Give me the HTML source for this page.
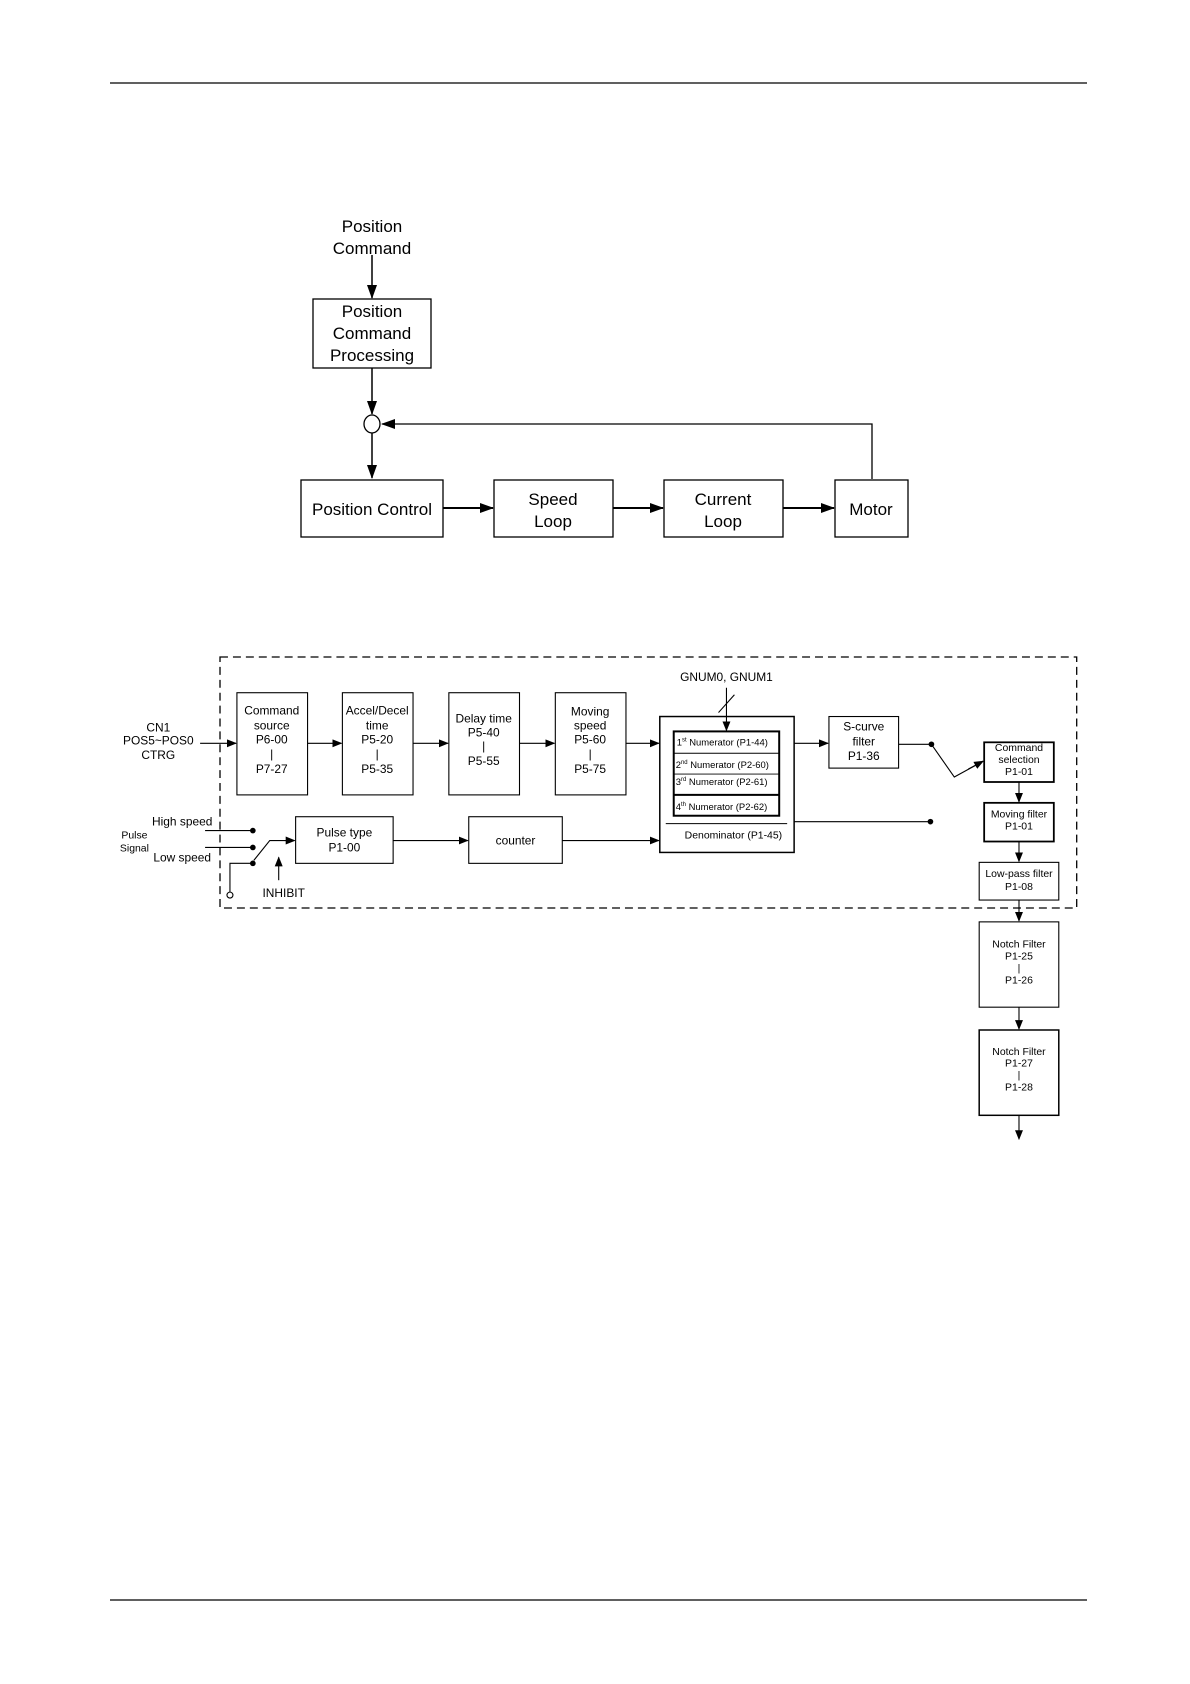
<!DOCTYPE html>
<html><head><meta charset="utf-8"><style>
html,body{margin:0;padding:0;background:#fff}
svg{display:block}
text{font-family:"Liberation Sans",sans-serif;fill:#000}
</style></head><body>
<svg width="1190" height="1684" viewBox="0 0 1190 1684" xmlns="http://www.w3.org/2000/svg">
<defs>
<marker id="a" markerWidth="10" markerHeight="8" refX="9" refY="4" orient="auto" markerUnits="userSpaceOnUse"><path d="M0,0 L10,4 L0,8 z" fill="#000"/></marker>
<marker id="b" markerWidth="14" markerHeight="10" refX="13" refY="5" orient="auto" markerUnits="userSpaceOnUse"><path d="M0,0 L14,5 L0,10 z" fill="#000"/></marker>
</defs>
<line x1="110" y1="83" x2="1087" y2="83" stroke="#000" stroke-width="1.2"/>
<line x1="110" y1="1600" x2="1087" y2="1600" stroke="#000" stroke-width="1.2"/>

<!-- top diagram -->
<g font-size="17" text-anchor="middle" stroke="#000" fill="none">
<line x1="372" y1="255" x2="372" y2="298" stroke-width="1.5" marker-end="url(#b)"/>
<rect x="313" y="299" width="118" height="69" stroke-width="1.3"/>
<line x1="372" y1="368" x2="372" y2="414" stroke-width="1.5" marker-end="url(#b)"/>
<ellipse cx="372" cy="424" rx="8" ry="9" stroke-width="1.3"/>
<polyline points="872,479 872,424 382,424" stroke-width="1.3" marker-end="url(#b)"/>
<line x1="372" y1="433" x2="372" y2="478" stroke-width="1.5" marker-end="url(#b)"/>
<rect x="301" y="480" width="142" height="57" stroke-width="1.3"/>
<rect x="494" y="480" width="119" height="57" stroke-width="1.3"/>
<rect x="664" y="480" width="119" height="57" stroke-width="1.3"/>
<rect x="835" y="480" width="73" height="57" stroke-width="1.3"/>
<line x1="443" y1="508" x2="493" y2="508" stroke-width="2" marker-end="url(#b)"/>
<line x1="613" y1="508" x2="663" y2="508" stroke-width="2" marker-end="url(#b)"/>
<line x1="783" y1="508" x2="834" y2="508" stroke-width="2" marker-end="url(#b)"/>
</g>
<g font-size="17" text-anchor="middle">
<text x="372" y="232">Position</text><text x="372" y="254">Command</text>
<text x="372" y="317">Position</text><text x="372" y="339">Command</text><text x="372" y="361">Processing</text>
<text x="372" y="515">Position Control</text>
<text x="553" y="505">Speed</text><text x="553" y="527">Loop</text>
<text x="723" y="505">Current</text><text x="723" y="527">Loop</text>
<text x="871" y="515">Motor</text>
</g>

<!-- lower diagram -->
<g transform="translate(221,658) scale(0.995,0.992) translate(-221,-658)">
<g stroke="#000" fill="none" stroke-width="1.1">
<rect x="220" y="657" width="861" height="253" stroke-dasharray="8,5" stroke-width="1.3"/>
<rect x="237" y="693" width="71" height="103"/>
<rect x="343" y="693" width="71" height="103"/>
<rect x="450" y="693" width="71" height="103"/>
<rect x="557" y="693" width="71" height="103"/>
<line x1="200" y1="744" x2="236" y2="744" marker-end="url(#a)"/>
<line x1="308" y1="744" x2="342" y2="744" marker-end="url(#a)"/>
<line x1="414" y1="744" x2="449" y2="744" marker-end="url(#a)"/>
<line x1="521" y1="744" x2="556" y2="744" marker-end="url(#a)"/>
<line x1="628" y1="744" x2="661" y2="744" marker-end="url(#a)"/>
<rect x="662" y="717" width="135" height="137" stroke-width="1.5"/>
<rect x="676" y="732" width="106" height="85" stroke-width="2"/>
<line x1="676" y1="754" x2="782" y2="754" stroke-width="1"/>
<line x1="676" y1="775" x2="782" y2="775" stroke-width="1"/>
<line x1="676" y1="796" x2="782" y2="796" stroke-width="2"/>
<line x1="668" y1="825" x2="790" y2="825" stroke-width="1"/>
<line x1="729" y1="688" x2="729" y2="731" marker-end="url(#a)"/>
<line x1="721" y1="713" x2="737" y2="695"/>
<line x1="797" y1="744" x2="831" y2="744" marker-end="url(#a)"/>
<rect x="832" y="717" width="70" height="52"/>
<polyline points="902,745 935,745 958,778 987,762"/>
<line x1="972" y1="770" x2="987" y2="762" marker-end="url(#a)"/>
<circle cx="935" cy="745" r="2.3" fill="#000"/>
<line x1="797" y1="823" x2="934" y2="823"/>
<circle cx="934" cy="823" r="2.3" fill="#000"/>
<rect x="988" y="743" width="70" height="40" stroke-width="1.8"/>
<line x1="1023" y1="783" x2="1023" y2="803" marker-end="url(#a)"/>
<rect x="988" y="804" width="70" height="39" stroke-width="1.8"/>
<line x1="1023" y1="843" x2="1023" y2="863" marker-end="url(#a)"/>
<rect x="983" y="864" width="80" height="38"/>
<line x1="1023" y1="902" x2="1023" y2="923" marker-end="url(#a)"/>
<rect x="983" y="924" width="80" height="86"/>
<line x1="1023" y1="1010" x2="1023" y2="1032" marker-end="url(#a)"/>
<rect x="983" y="1033" width="80" height="86" stroke-width="1.5"/>
<line x1="1023" y1="1119" x2="1023" y2="1143" marker-end="url(#a)"/>
<line x1="205" y1="832" x2="253" y2="832"/>
<line x1="205" y1="849" x2="253" y2="849"/>
<polyline points="230,894 230,865 253,865"/>
<circle cx="230" cy="897" r="3" fill="#fff"/>
<circle cx="253" cy="832" r="2.3" fill="#000"/>
<circle cx="253" cy="849" r="2.3" fill="#000"/>
<circle cx="253" cy="865" r="2.3" fill="#000"/>
<polyline points="254,862 270,842 287,842"/>
<line x1="285" y1="842" x2="295" y2="842" marker-end="url(#a)"/>
<line x1="279" y1="882" x2="279" y2="859" marker-end="url(#a)"/>
<rect x="296" y="818" width="98" height="47"/>
<line x1="394" y1="842" x2="469" y2="842" marker-end="url(#a)"/>
<rect x="470" y="818" width="94" height="47"/>
<line x1="564" y1="842" x2="661" y2="842" marker-end="url(#a)"/>
</g>
<g font-size="12" text-anchor="middle">
<text x="158" y="732">CN1</text><text x="158" y="745">POS5~POS0</text><text x="158" y="760">CTRG</text>
<text x="272" y="715">Command</text><text x="272" y="730">source</text><text x="272" y="744">P6-00</text><text x="272" y="759">|</text><text x="272" y="774">P7-27</text>
<text x="378" y="715">Accel/Decel</text><text x="378" y="730">time</text><text x="378" y="744">P5-20</text><text x="378" y="759">|</text><text x="378" y="774">P5-35</text>
<text x="485" y="723">Delay time</text><text x="485" y="737">P5-40</text><text x="485" y="751">|</text><text x="485" y="766">P5-55</text>
<text x="592" y="716">Moving</text><text x="592" y="730">speed</text><text x="592" y="744">P5-60</text><text x="592" y="759">|</text><text x="592" y="774">P5-75</text>
<text x="729" y="681">GNUM0, GNUM1</text>
<text x="867" y="731">S-curve</text><text x="867" y="746">filter</text><text x="867" y="761">P1-36</text>
<text x="182" y="827">High speed</text><text x="182" y="863">Low speed</text>
<text x="284" y="899">INHIBIT</text>
<text x="345" y="838">Pulse type</text><text x="345" y="853">P1-00</text>
<text x="517" y="846">counter</text>
</g>
<g font-size="10.5" text-anchor="middle">
<text x="134" y="840">Pulse</text><text x="134" y="853">Signal</text>
<text x="736" y="840">Denominator (P1-45)</text>
<text x="1023" y="752">Command</text><text x="1023" y="764">selection</text><text x="1023" y="776">P1-01</text>
<text x="1023" y="819">Moving filter</text><text x="1023" y="831">P1-01</text>
<text x="1023" y="879">Low-pass filter</text><text x="1023" y="892">P1-08</text>
<text x="1023" y="950">Notch Filter</text><text x="1023" y="962">P1-25</text><text x="1023" y="974">|</text><text x="1023" y="986">P1-26</text>
<text x="1023" y="1058">Notch Filter</text><text x="1023" y="1070">P1-27</text><text x="1023" y="1082">|</text><text x="1023" y="1094">P1-28</text>
</g>
<g font-size="9.5">
<text x="679" y="746">1<tspan font-size="6" dy="-4">st</tspan><tspan dy="4"> Numerator (P1-44)</tspan></text>
<text x="678" y="769">2<tspan font-size="6" dy="-4">nd</tspan><tspan dy="4"> Numerator (P2-60)</tspan></text>
<text x="678" y="786">3<tspan font-size="6" dy="-4">rd</tspan><tspan dy="4"> Numerator (P2-61)</tspan></text>
<text x="678" y="811">4<tspan font-size="6" dy="-4">th</tspan><tspan dy="4"> Numerator (P2-62)</tspan></text>
</g>
</g>
</svg>
</body></html>
